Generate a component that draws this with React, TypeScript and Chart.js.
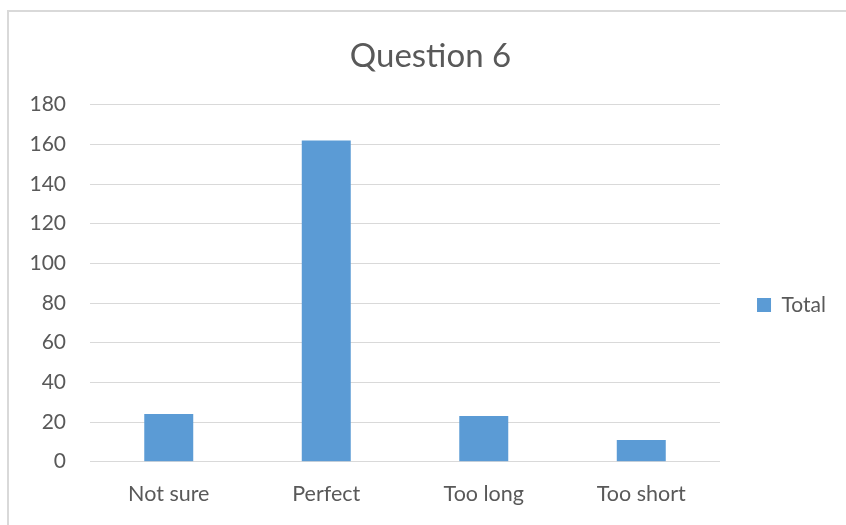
import React, { useEffect, useRef } from "react";
import { Chart, registerables } from "chart.js";

Chart.register(...registerables);

const chartTitle = "Question 6";
const categories = ["Not sure", "Perfect", "Too long", "Too short"];
const seriesName = "Total";
const totals = [24, 162, 23, 11];
const yMin = 0;
const yMax = 180;
const yStep = 20;

const FONT = "Lato, 'Noto Sans', sans-serif";
const TEXT = "#595959";
const GRID = "#d9d9d9";
const BAR = "#5b9bd5";

export default function App() {
  const ref = useRef<HTMLCanvasElement | null>(null);

  useEffect(() => {
    document.body.style.margin = "0";
    const canvas = ref.current;
    if (!canvas) return;
    const chart = new Chart(canvas, {
      type: "bar",
      data: {
        labels: categories,
        datasets: [
          {
            label: seriesName,
            data: totals,
            backgroundColor: BAR,
            borderWidth: 0,
            categoryPercentage: 1,
            barPercentage: 0.311,
          },
        ],
      },
      options: {
        animation: false,
        responsive: false,
        maintainAspectRatio: false,
        devicePixelRatio: 1,
        layout: { padding: { left: 25, right: 10, top: 0, bottom: 0 } },
        plugins: {
          title: {
            display: true,
            text: chartTitle,
            color: TEXT,
            font: { family: FONT, size: 33, weight: "normal", lineHeight: 1.2 },
            padding: { top: 36.5, bottom: 28.6 },
          },
          legend: {
            display: true,
            position: "right",
            fullSize: false,
            align: "center",
            title: {
              display: true,
              text: "",
              padding: 0,
              font: { family: FONT, size: 36.3, lineHeight: 1.2 },
            },
            labels: {
              boxWidth: 14,
              boxHeight: 14,
              padding: 37,
              color: TEXT,
              font: { family: FONT, size: 21 },
            },
          },
          tooltip: { enabled: false },
        },
        scales: {
          x: {
            grid: { display: false, drawTicks: false },
            border: { display: false },
            ticks: {
              color: TEXT,
              font: { family: FONT, size: 21.5 },
              padding: 19,
              maxRotation: 0,
            },
            afterFit: (scale: any) => {
              scale.height = 63.3;
            },
          },
          y: {
            min: yMin,
            max: yMax,
            grid: { color: GRID, lineWidth: 1, drawTicks: false },
            border: { display: false },
            ticks: {
              stepSize: yStep,
              color: TEXT,
              font: { family: FONT, size: 21 },
              padding: 24,
            },
            afterFit: (scale: any) => {
              scale.width = 65;
            },
          },
        },
      },
    });
    return () => chart.destroy();
  }, []);

  return (
    <div style={{ position: "relative", width: 846, height: 525, overflow: "hidden", background: "#fff" }}>
      <div
        style={{
          position: "absolute",
          left: 7,
          top: 10,
          width: 900,
          height: 600,
          borderLeft: `2px solid ${GRID}`,
          borderTop: `2px solid ${GRID}`,
          boxSizing: "border-box",
        }}
      />
      <canvas ref={ref} width={846} height={525} style={{ position: "absolute", left: 0, top: 0, display: "block" }} />
    </div>
  );
}
